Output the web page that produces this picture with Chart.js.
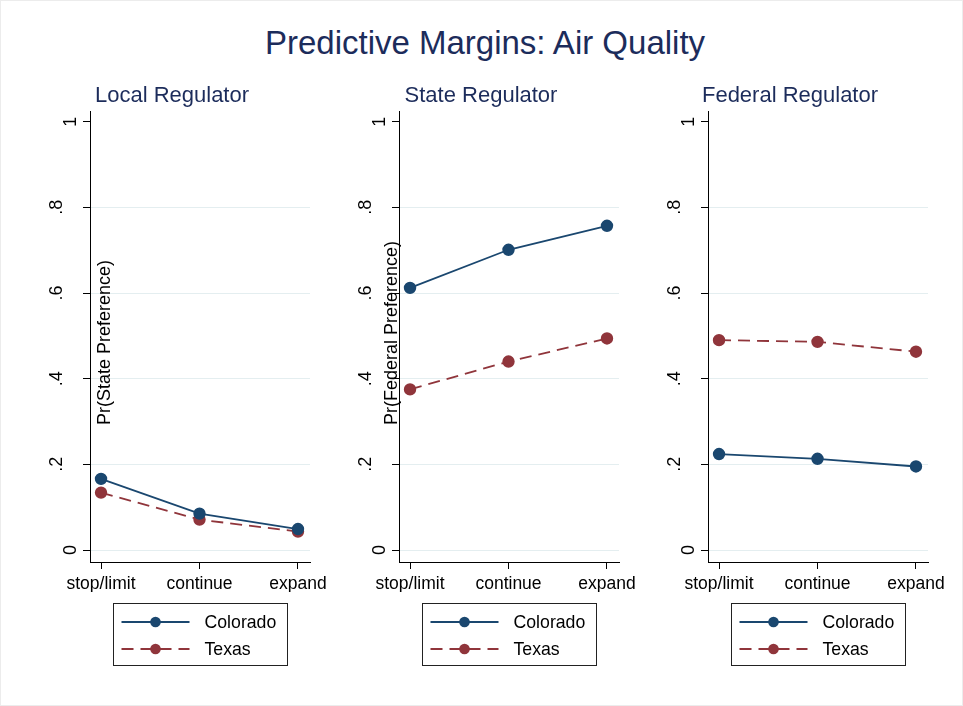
<!DOCTYPE html>
<html>
<head>
<meta charset="utf-8">
<script src="https://cdn.jsdelivr.net/npm/chart.js@4.4.1/dist/chart.umd.min.js"></script>
<style>
  body { margin: 0; background: #fff; }
  #page { position: relative; width: 963px; height: 706px; background: #fff; overflow: hidden; }
  #frame { position: absolute; left: 0; top: 0; width: 961px; height: 704px; border: 1px solid #ececec; }
  #title { position: absolute; left: 7px; width: 956px; top: 24px; line-height: 33px;
           text-align: center; font: 33px "Liberation Sans", Arial, sans-serif; color: #1c2c5b; }
  canvas { position: absolute; top: 0; }
</style>
</head>
<body>
<div id="page">
  <div id="frame"></div>
  <div id="title">Predictive Margins: Air Quality</div>
  <canvas id="c0" width="344" height="706" style="left:0px"></canvas>
  <canvas id="c1" width="344" height="706" style="left:309px"></canvas>
  <canvas id="c2" width="344" height="706" style="left:618px"></canvas>
</div>
<script>
const categories = ["stop/limit", "continue", "expand"];
const panelTitles = ["Local Regulator", "State Regulator", "Federal Regulator"];
const yTitles = ["Pr(State Preference)", "Pr(Federal Preference)", ""];
const yTickLabels = ["0", ".2", ".4", ".6", ".8", "1"];
const seriesNames = ["Colorado", "Texas"];

const coloradoLocal = [0.166, 0.085, 0.049];
const texasLocal = [0.134, 0.071, 0.043];
const coloradoState = [0.612, 0.701, 0.757];
const texasState = [0.375, 0.440, 0.494];
const coloradoFederal = [0.224, 0.213, 0.195];
const texasFederal = [0.490, 0.486, 0.463];

const panelData = [
  [coloradoLocal, texasLocal],
  [coloradoState, texasState],
  [coloradoFederal, texasFederal]
];

// where the misplaced y titles sit, per panel (canvas x of text baseline)
const yTitleX = [110, 88, 0];

const FONT = '"Liberation Sans", Arial, sans-serif';
const navy = "#1a476f";
const maroon = "#90353b";

const yLabelsPlugin = {
  id: "yLabels",
  afterDraw(chart, args, opts) {
    const ctx = chart.ctx;
    const y = chart.scales.y;
    const area = chart.chartArea;
    ctx.save();
    ctx.fillStyle = "#000";
    ctx.font = "18px " + FONT;
    ctx.textAlign = "center";
    ctx.textBaseline = "alphabetic";
    y.ticks.forEach(t => {
      const label = yTickLabels[Math.round(t.value / 0.2)];
      const px = area.left - (label.length > 1 ? 28 : 14);
      ctx.save();
      ctx.translate(px, y.getPixelForValue(t.value));
      ctx.rotate(-Math.PI / 2);
      ctx.fillText(label, 0, 0);
      ctx.restore();
    });
    if (opts.title) {
      ctx.font = "18px " + FONT;
      ctx.textAlign = "left";
      ctx.translate(opts.titleX, 425);
      ctx.rotate(-Math.PI / 2);
      ctx.fillText(opts.title, 0, 0);
    }
    ctx.restore();
  }
};

const boxLegendPlugin = {
  id: "boxLegend",
  afterDraw(chart) {
    const ctx = chart.ctx;
    const area = chart.chartArea;
    const w = 174, h = 62;
    const left = Math.round((area.left + area.right) / 2 - w / 2) + 0.5;
    const top = Math.round(area.bottom + 41) + 0.5;
    ctx.save();
    ctx.strokeStyle = "#222";
    ctx.lineWidth = 1;
    ctx.strokeRect(left, top, w, h);
    const rows = [top + 18.5, top + 45.5];
    chart.data.datasets.forEach((ds, i) => {
      const ry = rows[i];
      ctx.strokeStyle = ds.borderColor;
      ctx.lineWidth = ds.borderWidth;
      ctx.setLineDash(ds.borderDash || []);
      ctx.beginPath();
      ctx.moveTo(left + 8, ry);
      ctx.lineTo(left + 76, ry);
      ctx.stroke();
      ctx.setLineDash([]);
      ctx.fillStyle = ds.pointBackgroundColor;
      ctx.beginPath();
      ctx.arc(left + 42, ry, ds.pointRadius, 0, Math.PI * 2);
      ctx.fill();
      ctx.fillStyle = "#000";
      ctx.font = "17.7px " + FONT;
      ctx.textAlign = "left";
      ctx.textBaseline = "middle";
      ctx.fillText(ds.label, left + 91, ry + 1);
    });
    ctx.restore();
  }
};

function makePanel(idx) {
  const [co, tx] = panelData[idx];
  const toPts = arr => arr.map((v, i) => ({ x: i, y: v }));
  new Chart(document.getElementById("c" + idx), {
    type: "line",
    data: {
      datasets: [
        {
          label: seriesNames[0],
          data: toPts(co),
          borderColor: navy,
          backgroundColor: navy,
          pointBackgroundColor: navy,
          pointBorderColor: navy,
          borderWidth: 1.8,
          pointRadius: 5.3,
          tension: 0
        },
        {
          label: seriesNames[1],
          data: toPts(tx),
          borderColor: maroon,
          backgroundColor: maroon,
          pointBackgroundColor: maroon,
          pointBorderColor: maroon,
          borderWidth: 1.8,
          borderDash: [12, 7],
          pointRadius: 5.3,
          tension: 0
        }
      ]
    },
    options: {
      responsive: false,
      animation: false,
      devicePixelRatio: 1,
      layout: { padding: { top: 82.5, left: 34, right: 34, bottom: 114 } },
      plugins: {
        legend: { display: false },
        tooltip: { enabled: false },
        title: {
          display: true,
          text: panelTitles[idx],
          color: "#1c2c5b",
          font: { family: FONT, size: 22, weight: "normal", lineHeight: 1.2 },
          padding: { top: 0, bottom: 2.1 }
        },
        yLabels: { title: yTitles[idx], titleX: yTitleX[idx] }
      },
      scales: {
        x: {
          type: "linear",
          min: -0.112,
          max: 2.122,
          afterBuildTicks: s => { s.ticks = categories.map((c, i) => ({ value: i })); },
          afterFit: s => { s.height = 30; },
          grid: { drawOnChartArea: false, tickLength: 7, tickColor: "#000" },
          border: { display: true, color: "#000", width: 1 },
          ticks: {
            color: "#000",
            padding: 5,
            maxRotation: 0,
            font: { family: FONT, size: 17.5 },
            callback: v => categories[v]
          }
        },
        y: {
          min: -0.028,
          max: 1.025,
          afterBuildTicks: s => { s.ticks = yTickLabels.map((l, i) => ({ value: i * 0.2 })); },
          afterFit: s => { s.width = 56; },
          grid: {
            color: c => (c.tick && c.tick.value > 0.9 ? "rgba(0,0,0,0)" : "#e4eef0"),
            tickColor: "#000",
            tickLength: 7
          },
          border: { display: true, color: "#000", width: 1 },
          ticks: { display: false }
        }
      }
    },
    plugins: [yLabelsPlugin, boxLegendPlugin]
  });
}

[0, 1, 2].forEach(makePanel);
</script>
</body>
</html>
